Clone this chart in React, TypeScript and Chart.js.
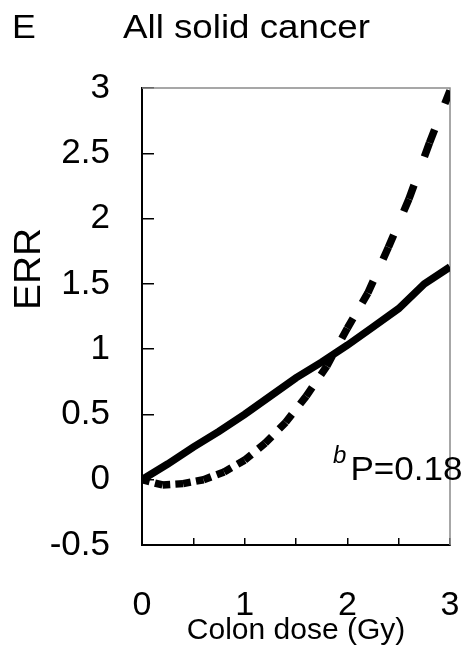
import React, { useEffect, useRef } from "react";
import { Chart, registerables } from "chart.js";

Chart.register(...registerables);

// ---- data ----
const solidDose = [0, 0.25, 0.5, 0.75, 1.0, 1.25, 1.5, 1.75, 2.0, 2.25, 2.5, 2.75, 3.0];
const solidERR = [0, 0.12, 0.25, 0.37, 0.5, 0.64, 0.78, 0.9, 1.03, 1.17, 1.31, 1.5, 1.63];

const dashedDose = [0, 0.2, 0.4, 0.6, 0.8, 1.0, 1.2, 1.4, 1.6, 1.8, 2.0, 2.2, 2.4, 2.6, 2.8, 3.0];
const dashedERR = [0, -0.04, -0.03, 0.0, 0.06, 0.15, 0.28, 0.44, 0.64, 0.87, 1.16, 1.43, 1.78, 2.15, 2.58, 2.98];

const xTickValues = [0, 0.5, 1, 1.5, 2, 2.5, 3];
const xTickLabels = ["0", "", "1", "", "2", "", "3"];
const yTickValues = [-0.5, 0, 0.5, 1, 1.5, 2, 2.5, 3];
const yTickLabels = ["-0.5", "0", "0.5", "1", "1.5", "2", "2.5", "3"];

const panelLetter = "E";
const chartTitle = "All solid cancer";
const xTitle = "Colon dose (Gy)";
const yTitle = "ERR";
const pSup = "b";
const pText = "P=0.18";

const FONT = "'Liberation Sans', Arial, Helvetica, sans-serif";

function labelFor(values: number[], labels: string[], v: number): string {
  const i = values.findIndex((t) => Math.abs(t - v) < 1e-6);
  return i >= 0 ? labels[i] : "";
}

function stretchedText(ctx: any, text: string, x: number, y: number, sx: number) {
  ctx.save();
  ctx.translate(x, y);
  ctx.scale(sx, 1);
  ctx.fillText(text, 0, 0);
  ctx.restore();
}

const textPlugin = {
  id: "textPlugin",
  beforeDatasetsDraw(chart: any) {
    const { ctx, chartArea } = chart;
    ctx.save();
    ctx.strokeStyle = "#8a8a8a";
    ctx.lineWidth = 1.5;
    ctx.beginPath();
    ctx.moveTo(chartArea.left, chartArea.top);
    ctx.lineTo(chartArea.right, chartArea.top);
    ctx.lineTo(chartArea.right, chartArea.bottom);
    ctx.stroke();
    ctx.restore();
  },
  afterDraw(chart: any) {
    const { ctx, scales } = chart;
    const xs = scales.x;
    const ys = scales.y;
    ctx.save();
    ctx.fillStyle = "#000";
    ctx.textBaseline = "alphabetic";
    ctx.textAlign = "left";
    ctx.font = `34px ${FONT}`;
    stretchedText(ctx, panelLetter, 12, 38, 1.05);
    stretchedText(ctx, chartTitle, 123, 38, 1.08);

    // y axis title
    ctx.save();
    ctx.translate(30, 269);
    ctx.rotate(-Math.PI / 2);
    ctx.scale(1.08, 1);
    ctx.textAlign = "center";
    ctx.textBaseline = "middle";
    ctx.font = `36px ${FONT}`;
    ctx.fillText(yTitle, 0, 0);
    ctx.restore();

    // p-value annotation
    ctx.textAlign = "left";
    ctx.textBaseline = "alphabetic";
    ctx.font = `italic 24px ${FONT}`;
    ctx.fillText(pSup, xs.getPixelForValue(1.86), ys.getPixelForValue(0.13));
    ctx.font = `34px ${FONT}`;
    stretchedText(ctx, pText, xs.getPixelForValue(2.03), ys.getPixelForValue(0), 1.03);
    ctx.restore();
  },
};

export default function App() {
  const canvasRef = useRef<HTMLCanvasElement | null>(null);

  useEffect(() => {
    if (!canvasRef.current) return;
    const chart = new Chart(canvasRef.current, {
      type: "line",
      data: {
        datasets: [
          {
            label: "linear",
            data: solidDose.map((d, i) => ({ x: d, y: solidERR[i] })),
            borderColor: "#000",
            borderWidth: 7.5,
            pointRadius: 0,
            tension: 0,
            fill: false,
          },
          {
            label: "quadratic",
            data: dashedDose.map((d, i) => ({ x: d, y: dashedERR[i] })),
            borderColor: "#000",
            borderWidth: 7.5,
            pointRadius: 0,
            tension: 0,
            fill: false,
            segment: {
              // one dash per segment, centred on the data points
              borderDash: (c: any) => {
                const dx = c.p1.x - c.p0.x;
                const dy = c.p1.y - c.p0.y;
                const L = Math.hypot(dx, dy);
                const d = Math.min(L * 0.8, 8 + 0.36 * L);
                return [d / 2, Math.max(L - d, 0.01), d / 2, 0];
              },
            },
          } as any,
        ],
      },
      options: {
        animation: false,
        responsive: true,
        maintainAspectRatio: false,
        layout: { padding: { left: 0, top: 88, right: 15, bottom: 0 } },
        plugins: {
          legend: { display: false },
          tooltip: { enabled: false },
          title: { display: false },
        },
        scales: {
          x: {
            type: "linear",
            min: 0,
            max: 3,
            afterFit: (s: any) => {
              s.height = 113;
              s.paddingLeft = 0;
              s.paddingRight = 0;
            },
            afterBuildTicks: (s: any) => {
              s.ticks = xTickValues.map((v) => ({ value: v }));
            },
            ticks: {
              autoSkip: false,
              maxRotation: 0,
              padding: 51,
              color: "#000",
              font: { family: FONT, size: 34, lineHeight: 1 },
              callback: (v: any) => labelFor(xTickValues, xTickLabels, Number(v)),
            },
            grid: {
              drawOnChartArea: false,
              drawTicks: true,
              tickLength: -7,
              color: "#000",
              lineWidth: 1.5,
            },
            border: { display: true, color: "#000", width: 2 },
            title: {
              display: true,
              text: xTitle,
              color: "#000",
              font: { family: FONT, size: 30, lineHeight: 1 },
              padding: { top: 0, bottom: 12 },
            },
          },
          y: {
            type: "linear",
            min: -0.5,
            max: 3,
            afterFit: (s: any) => {
              s.width = 142;
              s.paddingTop = 0;
              s.paddingBottom = 0;
            },
            afterBuildTicks: (s: any) => {
              s.ticks = yTickValues.map((v) => ({ value: v }));
            },
            ticks: {
              autoSkip: false,
              padding: 44,
              color: "#000",
              font: { family: FONT, size: 35, lineHeight: 1 },
              callback: (v: any) => labelFor(yTickValues, yTickLabels, Number(v)),
            },
            grid: {
              drawOnChartArea: false,
              drawTicks: true,
              tickLength: -12,
              color: "#000",
              lineWidth: 1.5,
            },
            border: { display: true, color: "#000", width: 2 },
          },
        },
      },
      plugins: [textPlugin],
    });
    return () => chart.destroy();
  }, []);

  return (
    <div
      style={{
        position: "absolute",
        left: 0,
        top: 0,
        width: 465,
        height: 658,
        background: "#fff",
      }}
    >
      <canvas ref={canvasRef} />
    </div>
  );
}
